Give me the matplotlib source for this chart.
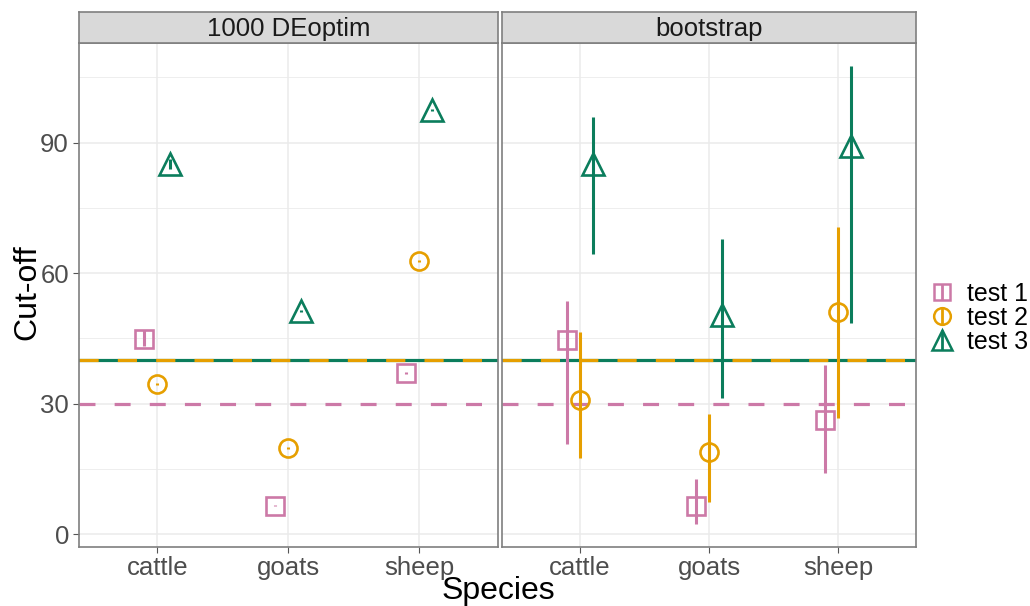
import matplotlib
matplotlib.use("Agg")
import matplotlib.pyplot as plt
from matplotlib.lines import Line2D
import numpy as np

plt.rcParams["font.family"] = ["Liberation Sans", "DejaVu Sans"]

# data
species = ["cattle", "goats", "sheep"]
tests = ["test 1", "test 2", "test 3"]
panels = ["1000 DEoptim", "bootstrap"]

# 1000 DEoptim: point estimates (rows = tests, cols = species)
deoptim_est = [[44.9, 6.6, 37.0], [34.5, 19.9, 62.8], [85.0, 51.4, 97.5]]
deoptim_lo = [[43.3, 6.4, 36.8], [34.3, 19.7, 62.6], [84.0, 51.2, 97.3]]
deoptim_hi = [[47.0, 6.8, 37.2], [34.7, 20.1, 63.0], [86.3, 51.6, 97.7]]

# bootstrap: estimates with intervals
boot_est = [[44.7, 6.6, 26.3], [30.9, 18.8, 51.0], [85.0, 50.3, 89.3]]
boot_lo = [[20.7, 2.4, 14.0], [17.5, 7.5, 26.8], [64.4, 31.3, 48.5]]
boot_hi = [[53.7, 12.6, 38.9], [46.4, 27.6, 70.7], [95.9, 67.9, 107.7]]

cutoffs = [30, 40, 40]

colors = ["#CC79A7", "#E69F00", "#0B7D5C"]
markers = ["s", "o", "^"]
msizes = [13, 13, 16]
dodge = [-0.1, 0.0, 0.1]

fig = plt.figure(figsize=(10.3, 6.06), dpi=100)

panel_boxes = [(0.0764, 0.0979, 0.4071, 0.8310), (0.4877, 0.0979, 0.4013, 0.8310)]
panel_data = [(deoptim_est, deoptim_lo, deoptim_hi), (boot_est, boot_lo, boot_hi)]
x = np.arange(1, len(species) + 1)

for p, (box, (est, lo, hi)) in enumerate(zip(panel_boxes, panel_data)):
    ax = fig.add_axes(box)
    ax.set_xlim(0.4, 3.6)
    ax.set_ylim(-2.85, 112.9)
    ax.set_yticks([0, 30, 60, 90])
    ax.set_yticks([15, 45, 75, 105], minor=True)
    ax.set_xticks(x)
    ax.grid(which="major", color="#EBEBEB", lw=1.1)
    ax.grid(which="minor", axis="y", color="#EBEBEB", lw=0.6)
    ax.set_axisbelow(True)
    for s in ax.spines.values():
        s.set_color("#7F7F7F")
        s.set_linewidth(1.2)
    ax.tick_params(which="major", length=4, color="#555555", labelsize=18.5,
                   labelcolor="#4D4D4D", pad=3)
    ax.tick_params(which="minor", length=0)
    ax.set_xticklabels(species)
    if p > 0:
        ax.tick_params(axis="y", which="both", left=False, labelleft=False)

    # reference lines
    ax.axhline(cutoffs[0], color=colors[0], lw=2.3, ls=(0, (5, 6)), zorder=1.5)
    ax.axhline(cutoffs[2], color=colors[2], lw=2.3, zorder=1.5)
    ax.axhline(cutoffs[1], color=colors[1], lw=2.3, ls=(0, (6, 6)), zorder=1.6)

    for t in range(len(tests)):
        xs = x + dodge[t]
        ax.vlines(xs, lo[t], hi[t], color=colors[t], lw=2.2, zorder=3)
        ax.plot(xs, est[t], ls="none", marker=markers[t], ms=msizes[t],
                mfc="none", mec=colors[t], mew=1.9, zorder=4)

    # facet strip
    sx = fig.add_axes((box[0], box[1] + box[3], box[2], 0.0512))
    sx.set_facecolor("#D9D9D9")
    sx.set_xticks([])
    sx.set_yticks([])
    for s in sx.spines.values():
        s.set_color("#7F7F7F")
        s.set_linewidth(1.2)
    sx.text(0.5, 0.45, panels[p], ha="center", va="center", fontsize=18.5,
            color="#1A1A1A", transform=sx.transAxes)

fig.text(0.027, 0.518, "Cut-off", rotation=90, ha="center", va="center", fontsize=23)
fig.text(0.4835, 0.024, "Species", ha="center", va="center", fontsize=23)

handles = []
for t in range(len(tests)):
    bar = Line2D([], [], ls="none", marker="|", ms=msizes[t] - 1, mew=2.0, color=colors[t])
    pt = Line2D([], [], ls="none", marker=markers[t], ms=msizes[t] - 1, mfc="none",
                mec=colors[t], mew=1.8)
    handles.append((bar, pt))

fig.legend(handles, tests, loc="center left", bbox_to_anchor=(0.893, 0.475),
           frameon=False, fontsize=18, handlelength=1.0, handletextpad=0.5,
           labelspacing=0.0, borderaxespad=0)

fig.savefig("out.png", dpi=100)
